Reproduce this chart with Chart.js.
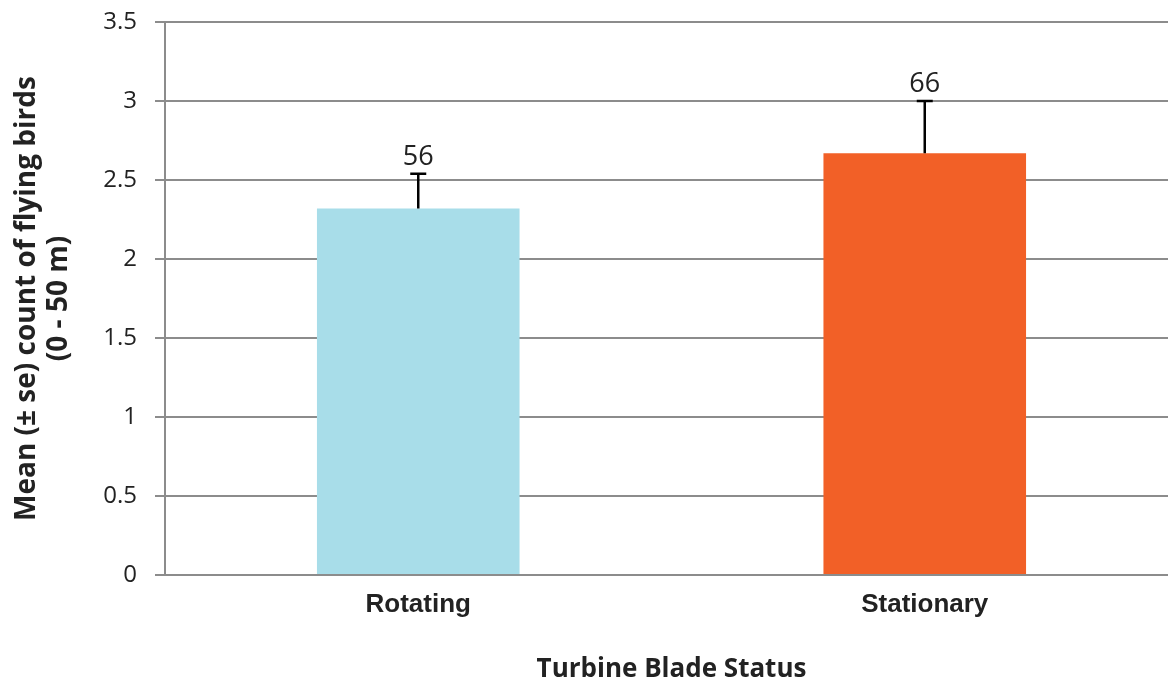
<!DOCTYPE html>
<html>
<head>
<meta charset="utf-8">
<script src="https://cdn.jsdelivr.net/npm/chart.js@4"></script>
<style>
  html, body { margin: 0; padding: 0; background: #fff; overflow: hidden; }
  #wrap { width: 1178px; height: 688px; }
</style>
</head>
<body>
<div id="wrap"><canvas id="chart"></canvas></div>
<script>
const categories = ['Rotating', 'Stationary'];
const means = [2.32, 2.67];
const errors = [0.22, 0.33];
const counts = ['56', '66'];
const barColors = ['#a8dde9', '#f26027'];

// error bars (upper only) plus the n labels above them
const errorBarPlugin = {
    id: 'errorBars',
    afterDatasetsDraw(chart) {
        const ctx = chart.ctx;
        const y = chart.scales.y;
        const meta = chart.getDatasetMeta(0);
        ctx.save();
        meta.data.forEach((bar, i) => {
            const top = y.getPixelForValue(means[i] + errors[i]);
            ctx.strokeStyle = '#000';
            ctx.lineWidth = 2.5;
            ctx.beginPath();
            ctx.moveTo(bar.x, bar.y);
            ctx.lineTo(bar.x, top);
            ctx.moveTo(bar.x - 8, top);
            ctx.lineTo(bar.x + 8, top);
            ctx.stroke();

            ctx.fillStyle = '#222';
            ctx.font = '27px "Open Sans"';
            ctx.textAlign = 'center';
            ctx.textBaseline = 'alphabetic';
            ctx.fillText(counts[i], bar.x, top - 9);
        });
        ctx.restore();
    }
};

new Chart(document.getElementById('chart'), {
    type: 'bar',
    data: {
        labels: categories,
        datasets: [{
            data: means,
            backgroundColor: barColors,
            borderWidth: 0,
            barPercentage: 0.4,
            categoryPercentage: 1
        }]
    },
    options: {
        responsive: true,
        maintainAspectRatio: false,
        animation: false,
        layout: { padding: { top: 22, left: 0, right: 0, bottom: 0 } },
        plugins: {
            legend: { display: false },
            tooltip: { enabled: false }
        },
        scales: {
            x: {
                grid: { display: false, drawTicks: false },
                border: { display: false },
                ticks: {
                    color: '#222',
                    padding: 14,
                    font: { family: '"Liberation Sans", Arial', size: 26, weight: 'bold' }
                },
                title: {
                    display: true,
                    text: 'Turbine Blade Status',
                    color: '#222',
                    padding: { top: 0, bottom: 2 },
                    font: { family: '"Open Sans"', size: 26, weight: 'bold', lineHeight: 1.25 }
                },
                afterFit(scale) { scale.height = 113; }
            },
            y: {
                min: 0,
                max: 3.5,
                ticks: {
                    stepSize: 0.5,
                    color: '#222',
                    padding: 18,
                    font: { family: '"Open Sans"', size: 24 },
                    callback: (value) => String(value)
                },
                grid: { color: '#8c8c8c', lineWidth: 2, tickLength: 10 },
                border: { color: '#8c8c8c', width: 2 },
                title: {
                    display: true,
                    text: ['Mean (± se) count of flying birds', '(0 - 50 m)'],
                    color: '#222',
                    padding: { top: 11, bottom: 0 },
                    font: { family: '"Open Sans"', size: 28, weight: 'bold', lineHeight: 1.15 }
                },
                afterFit(scale) {
                    scale.width = 165;
                    scale.paddingTop = 0;
                    scale.paddingBottom = 0;
                }
            }
        }
    },
    plugins: [errorBarPlugin]
});
</script>
</body>
</html>
